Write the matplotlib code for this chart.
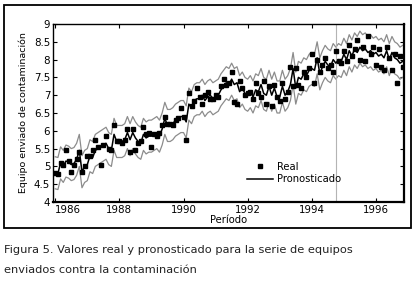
import numpy as np
import matplotlib.pyplot as plt
from matplotlib.patches import Rectangle

# valores mensuales (ene 1986 - nov 1996)
inicio = 1986.0
pronostico = [
    4.82, 4.80, 5.10, 5.00, 5.15, 5.12, 5.05, 5.08, 5.20, 5.45, 4.85, 5.00,   # 1986
    5.05, 5.30, 5.25, 5.45, 5.50, 5.55, 5.60, 5.65, 5.50, 5.45, 5.90, 5.70,   # 1987
    5.70, 5.70, 5.75, 5.95, 5.75, 5.95, 5.80, 5.70, 5.65, 5.90, 5.80, 5.85,   # 1988
    5.85, 5.90, 5.95, 5.85, 6.05, 6.35, 6.15, 6.15, 6.20, 6.30, 6.35, 6.40,   # 1989
    6.40, 6.25, 6.75, 6.65, 6.85, 6.90, 6.90, 7.00, 6.85, 6.95, 7.00, 6.90,   # 1990
    6.95, 7.00, 7.15, 7.25, 7.35, 7.30, 7.45, 7.30, 7.35, 7.10, 7.20, 7.05,   # 1991
    7.00, 7.10, 6.95, 7.15, 7.10, 7.30, 7.05, 7.00, 7.25, 7.00, 7.20, 6.95,   # 1992
    6.95, 7.25, 7.00, 7.10, 7.30, 7.75, 7.20, 7.50, 7.45, 7.60, 7.55, 7.70,   # 1993
    7.75, 7.70, 8.05, 7.60, 7.80, 7.95, 7.85, 7.80, 8.00, 7.90, 8.00, 7.95,   # 1994
    8.15, 8.00, 8.25, 8.10, 8.30, 8.20, 8.35, 8.25, 8.30, 8.20, 8.25, 8.15,   # 1995
    8.20, 8.10, 8.15, 8.05, 8.25, 8.00, 8.20, 8.05, 8.00, 7.90, 7.95,         # 1996
]
real = [
    4.82, 4.80, 5.10, 5.05, 5.45, 5.15, 4.85, 5.05, 5.20, 5.40, 4.85, 5.00,
    5.30, 5.30, 5.45, 5.75, 5.55, 5.05, 5.60, 5.85, 5.50, 5.45, 6.15, 5.70,
    5.70, 5.65, 5.75, 6.05, 5.40, 6.05, 5.45, 5.65, 5.70, 6.10, 5.90, 5.95,
    5.55, 5.90, 5.85, 5.95, 6.15, 6.40, 6.20, 6.20, 6.15, 6.30, 6.35, 6.65,
    6.40, 5.75, 7.05, 6.70, 6.85, 7.20, 6.95, 6.75, 7.00, 7.10, 6.90, 6.90,
    7.00, 6.95, 7.25, 7.45, 7.30, 7.35, 7.65, 6.80, 6.75, 7.40, 7.20, 7.00,
    7.05, 7.10, 6.90, 7.35, 7.05, 6.95, 7.40, 6.75, 7.25, 6.70, 7.30, 6.95,
    6.85, 7.35, 6.90, 7.10, 7.80, 7.25, 7.75, 7.30, 7.20, 7.65, 7.50, 7.75,
    8.15, 7.35, 8.00, 7.65, 7.85, 8.05, 7.75, 7.85, 7.65, 8.25, 7.95, 7.90,
    8.25, 7.95, 8.40, 8.10, 8.30, 8.55, 8.00, 8.35, 7.95, 8.65, 8.15, 8.35,
    7.85, 8.30, 7.80, 7.70, 8.35, 8.05, 7.70, 8.15, 7.35, 8.10, 7.80,
]
ancho_banda = 0.45      # semiancho del intervalo de pronostico
corte = 1994.75         # fin del periodo de ajuste
anios = [1986, 1988, 1990, 1992, 1994, 1996]
yticks = [4, 4.5, 5, 5.5, 6, 6.5, 7, 7.5, 8, 8.5, 9]

t = inicio + np.arange(len(pronostico)) / 12.0
pron = np.array(pronostico)

fig = plt.figure(figsize=(4.16, 2.83), dpi=100)
# marco exterior
fig.patches.append(Rectangle((4 / 416, 1 - 228 / 283), 407 / 416, 223 / 283,
                             transform=fig.transFigure, fill=False,
                             edgecolor='black', linewidth=1.3))

ax = fig.add_axes([53 / 416, 1 - 202 / 283, 351 / 416, 178 / 283])
ax.plot(t, pron + ancho_banda, color='#8c8c8c', linewidth=0.9)
ax.plot(t, pron - ancho_banda, color='#8c8c8c', linewidth=0.9)
ax.axvline(corte, color='#b4b4b4', linewidth=0.8)
ax.plot(t, pron, color='black', linewidth=1.1, label='Pronosticado')
ax.plot(t, real, 's', color='black', markersize=2.3, label='Real')

ax.set_xlim(1985.93, 1996.875)
ax.set_ylim(4, 9)
ax.set_xticks(anios)
ax.set_xticklabels([str(a) for a in anios])
ax.get_xticklabels()[0].set_horizontalalignment('left')
ax.set_yticks(yticks)
ax.set_yticklabels(['%g' % v for v in yticks])
ax.tick_params(direction='in', length=3, width=0.8, labelsize=7.4, pad=2,
               top=True, right=True)
for s in ax.spines.values():
    s.set_linewidth(1.0)
ax.spines['bottom'].set_linewidth(1.6)
ax.spines['right'].set_linewidth(1.6)

ax.set_xlabel('Período', fontsize=7.2, labelpad=0)
ax.set_ylabel('Equipo enviado de contaminación', fontsize=6.8, labelpad=4)

h, l = ax.get_legend_handles_labels()
ax.legend(h[::-1], l[::-1], loc='upper left', bbox_to_anchor=(0.54, 0.25),
          frameon=False, fontsize=7.2, handlelength=2.6, handletextpad=0.4,
          labelspacing=0.25, borderaxespad=0)

fig.text(4 / 416, 1 - 250 / 283, 'Figura 5. Valores real y pronosticado para la serie de equipos',
         fontsize=8.2, va='center', ha='left', color='#222222')
fig.text(4 / 416, 1 - 270 / 283, 'enviados contra la contaminación',
         fontsize=8.2, va='center', ha='left', color='#222222')

fig.savefig('out.png', dpi=100)
